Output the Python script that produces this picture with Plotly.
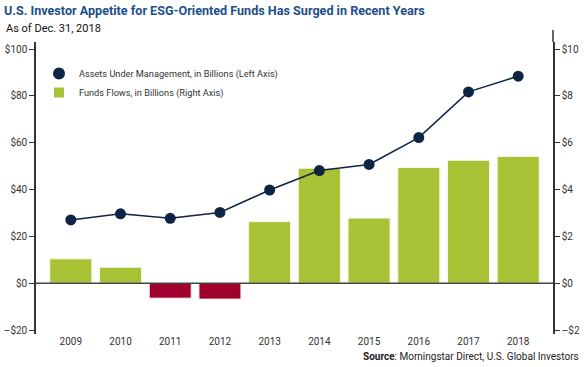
import plotly.graph_objects as go

years = ["2009", "2010", "2011", "2012", "2013", "2014", "2015", "2016", "2017", "2018"]
aum_billions = [27.0, 29.6, 27.7, 30.2, 39.8, 48.1, 50.7, 62.2, 81.7, 88.4]
flows_billions = [1.04, 0.68, -0.64, -0.68, 2.63, 4.91, 2.78, 4.94, 5.25, 5.41]

left_ticks = [-20, 0, 20, 40, 60, 80, 100]
left_labels = ["\u2013$20", "$0", "$20", "$40", "$60", "$80", "$100"]
right_ticks = [-2, 0, 2, 4, 6, 8, 10]
right_labels = ["\u2013$2", "$0", "$2", "$4", "$6", "$8", "$10"]

GREEN = "#a8c235"
RED = "#a1002e"
NAVY = "#0e2443"
FONT = "Roboto"

bar_colors = [GREEN if v >= 0 else RED for v in flows_billions]

fig = go.Figure()
fig.add_trace(go.Bar(
    x=years, y=flows_billions, yaxis="y",
    marker=dict(color=bar_colors, line=dict(color="#f4f7e6", width=1)),
    showlegend=False, hoverinfo="x+y",
))
fig.add_trace(go.Scatter(
    x=years, y=aum_billions, yaxis="y2", mode="lines+markers",
    line=dict(color=NAVY, width=1.5),
    marker=dict(color=NAVY, size=11),
    showlegend=False,
))
# legend-only entries
fig.add_trace(go.Scatter(
    x=[None], y=[None], mode="markers", yaxis="y2",
    marker=dict(color=NAVY, size=12, symbol="circle"),
    name="Assets Under Management, in Billions (Left Axis)",
))
fig.add_trace(go.Scatter(
    x=[None], y=[None], mode="markers", yaxis="y2",
    marker=dict(color=GREEN, size=10, symbol="square"),
    name="Funds Flows, in Billions (Right Axis)",
))

fig.update_layout(
    width=585, height=367,
    margin=dict(l=36, r=32, t=42, b=33, autoexpand=False),
    paper_bgcolor="white", plot_bgcolor="white",
    font=dict(family=FONT, size=10, color="#333333"),
    bargap=0.155,
    xaxis=dict(
        type="category", range=[-0.7, 9.7], showgrid=False, showline=False,
        ticks="", tickfont=dict(size=10, color="#333333"), automargin=False,
    ),
    yaxis=dict(
        side="right", range=[-2.17, 10.3], tickvals=right_ticks, ticktext=right_labels,
        showgrid=False, zeroline=False, showline=True, linecolor="#333333", linewidth=1.5,
        ticks="outside", ticklen=5, tickcolor="#333333", tickfont=dict(size=10, color="#333333"),
        automargin=False,
    ),
    yaxis2=dict(
        side="left", overlaying="y", range=[-21.7, 103], tickvals=left_ticks, ticktext=left_labels,
        showgrid=False, zeroline=False, showline=True, linecolor="#333333", linewidth=1.5,
        ticks="outside", ticklen=5, tickcolor="#333333", tickfont=dict(size=10, color="#333333"),
        automargin=False,
    ),
    legend=dict(
        x=3 / 517, y=(334 - 59) / 292, xanchor="left", yanchor="top",
        bgcolor="rgba(0,0,0,0)", font=dict(size=9.2, color="#333333"),
        tracegroupgap=0, itemwidth=30,
    ),
    title=dict(
        text="<b>U.S. Investor Appetite for ESG-Oriented Funds Has Surged in Recent Years</b>",
        xref="container", yref="container", x=4 / 585, y=1 - 11 / 367,
        xanchor="left", yanchor="middle",
        font=dict(family=FONT, size=12.6, color="#1d4f8a"),
    ),
    shapes=[
        dict(type="line", xref="paper", yref="y", x0=0, x1=1, y0=0, y1=0,
             line=dict(color="#444444", width=1.5)),
        dict(type="line", xref="paper", yref="paper", x0=1, x1=1, y0=1, y1=1 + 12 / 292,
             line=dict(color="#333333", width=1.5)),
    ],
    annotations=[
        dict(text="As of Dec. 31, 2018", xref="paper", yref="paper",
             x=(4 - 36) / 517, y=(334 - 28) / 292, xanchor="left", yanchor="middle",
             showarrow=False, font=dict(family=FONT, size=11, color="#111111")),
        dict(text="<b>Source</b>: Morningstar Direct, U.S. Global Investors",
             xref="paper", yref="paper", x=(581 - 36) / 517, y=(334 - 356) / 292,
             xanchor="right", yanchor="middle", showarrow=False,
             font=dict(family=FONT, size=10, color="#222222")),
    ],
)

fig.write_html("out.html", config={"displayModeBar": False},
               post_script="document.body.style.margin='0px';")
